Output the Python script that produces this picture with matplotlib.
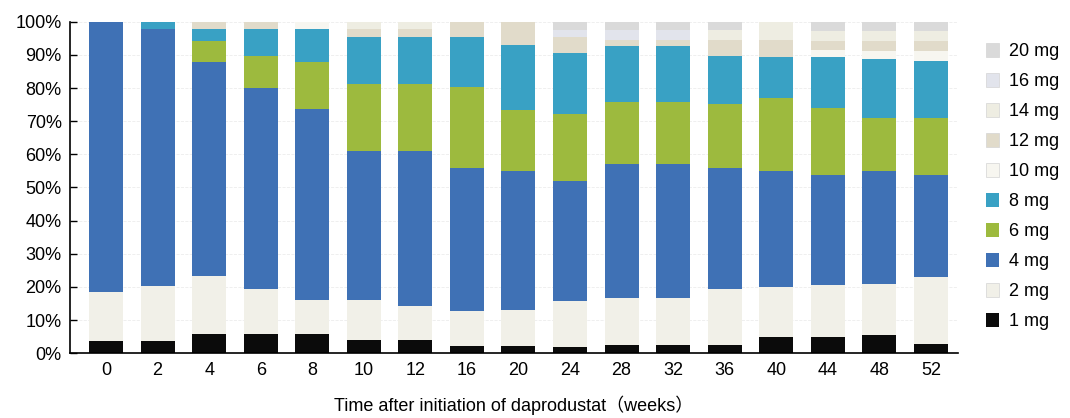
import matplotlib.pyplot as plt
from matplotlib.patches import Patch
from matplotlib.ticker import PercentFormatter
import numpy as np

plt.rcParams["font.family"] = ["Liberation Sans", "Noto Sans CJK JP", "DejaVu Sans"]

weeks = ["0", "2", "4", "6", "8", "10", "12", "16", "20", "24", "28", "32", "36", "40", "44", "48", "52"]

# share of patients (%) on each daprodustat dose, per visit
dose_1 = [3.6, 3.6, 5.9, 5.9, 5.9, 4.1, 4.1, 2.1, 2.1, 2.0, 2.4, 2.4, 2.4, 4.9, 4.9, 5.4, 2.9]
dose_2 = [15.0, 16.8, 17.4, 13.6, 10.1, 11.9, 10.1, 10.6, 11.1, 13.9, 14.3, 14.3, 17.1, 15.1, 15.6, 15.6, 20.2]
dose_4 = [81.4, 77.4, 64.5, 60.5, 57.6, 45.0, 46.8, 43.3, 41.8, 36.0, 40.3, 40.3, 36.3, 35.0, 33.3, 34.0, 30.7]
dose_6 = [0.0, 0.0, 6.3, 9.8, 14.2, 20.2, 20.2, 24.2, 18.3, 20.4, 18.8, 18.8, 19.5, 22.1, 20.3, 16.1, 17.3]
dose_8 = [0.0, 2.2, 3.7, 8.0, 10.0, 14.3, 14.3, 15.1, 19.7, 18.2, 17.0, 16.9, 14.5, 12.4, 15.3, 17.7, 17.0]
dose_10 = [0.0, 0.0, 0.0, 0.0, 2.2, 0.0, 0.0, 0.0, 0.0, 0.0, 0.0, 0.0, 0.0, 0.0, 2.1, 2.3, 3.0]
dose_12 = [0.0, 0.0, 2.2, 2.2, 0.0, 2.3, 2.3, 4.7, 7.0, 4.8, 1.8, 1.9, 4.7, 5.0, 2.6, 3.0, 3.0]
dose_14 = [0.0, 0.0, 0.0, 0.0, 0.0, 2.2, 2.2, 0.0, 0.0, 0.0, 0.0, 0.0, 3.0, 5.5, 3.0, 3.0, 3.0]
dose_16 = [0.0, 0.0, 0.0, 0.0, 0.0, 0.0, 0.0, 0.0, 0.0, 2.2, 2.9, 2.9, 0.0, 0.0, 0.0, 0.0, 0.0]
dose_20 = [0.0, 0.0, 0.0, 0.0, 0.0, 0.0, 0.0, 0.0, 0.0, 2.5, 2.5, 2.5, 2.5, 0.0, 2.9, 2.9, 2.9]

dose_labels = ["1 mg", "2 mg", "4 mg", "6 mg", "8 mg", "10 mg", "12 mg", "14 mg", "16 mg", "20 mg"]
series = [dose_1, dose_2, dose_4, dose_6, dose_8, dose_10, dose_12, dose_14, dose_16, dose_20]
colors = ["#0b0b0b", "#f1f0e8", "#3f71b5", "#9dba3e", "#39a1c4",
          "#f7f6f0", "#e1dbca", "#eeede2", "#e2e4ec", "#dadada"]

fig = plt.figure(figsize=(10.7, 4.18), dpi=100)
ax = fig.add_axes([0.0654, 0.1548, 0.8296, 0.7933])

x = np.arange(len(weeks))
bottom = np.zeros(len(weeks))
for vals, col in zip(series, colors):
    ax.bar(x, vals, bottom=bottom, width=0.66, color=col, edgecolor="none", zorder=2)
    bottom += np.array(vals)

ax.set_xlim(-0.70, 16.52)
ax.set_ylim(0, 100)
ax.set_yticks(np.arange(0, 101, 10))
ax.yaxis.set_major_formatter(PercentFormatter(decimals=0))
ax.set_xticks(x)
ax.set_xticklabels(weeks)
ax.tick_params(axis="x", length=0, labelsize=13, pad=6)
ax.tick_params(axis="y", direction="in", length=5, width=1, labelsize=13, pad=6)
ax.grid(axis="y", color="#ececec", linestyle="--", linewidth=0.6, zorder=0)
for side in ("top", "right"):
    ax.spines[side].set_visible(False)
for side in ("left", "bottom"):
    ax.spines[side].set_linewidth(1.2)

ax.set_xlabel("Time after initiation of daprodustat（weeks）", fontsize=13, labelpad=12)

handles = [Patch(facecolor=c, edgecolor="#d4d4d4" if i >= 5 or i == 1 else "none", linewidth=0.5, label=l)
           for i, (c, l) in enumerate(zip(colors, dose_labels))]
fig.legend(handles=handles[::-1], loc="upper left", bbox_to_anchor=(0.913, 0.918),
           frameon=False, fontsize=13, handlelength=0.75, handleheight=0.75,
           handletextpad=0.5, labelspacing=0.72, borderpad=0)

fig.savefig("out.png", dpi=100)
